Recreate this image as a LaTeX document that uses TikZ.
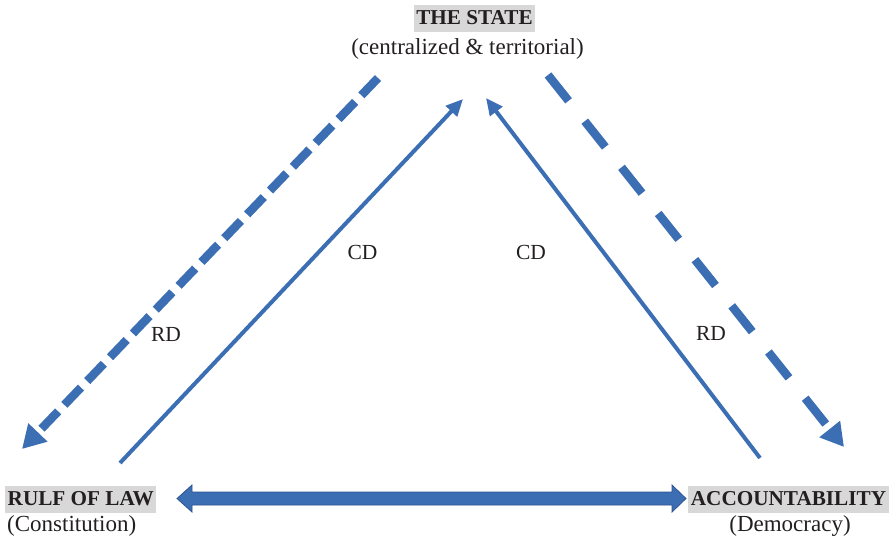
\documentclass[tikz,border=0pt]{standalone}
\usepackage{fontspec}
\setmainfont{Liberation Serif}
\usetikzlibrary{arrows.meta,calc}
\definecolor{lineblue}{RGB}{60,110,180}
\definecolor{edgeblue}{RGB}{47,82,143}
\definecolor{boxgrey}{RGB}{216,216,216}
\definecolor{inkc}{RGB}{35,31,32}
\tikzset{
  lbl/.style={font=\fontsize{21.5}{25}\selectfont, text=inkc, inner sep=0pt},
  sublbl/.style={font=\fontsize{23}{27}\selectfont, text=inkc, inner sep=0pt},
  headlbl/.style={font=\fontsize{21.2}{25}\selectfont\bfseries, text=inkc, fill=boxgrey,
     inner xsep=2.5pt, inner ysep=4pt, text height=15pt, text depth=4pt},
  rdarrow/.style={draw=lineblue, line width=8.5pt, -{Triangle[length=23pt,width=25pt]}},
  cdarrow/.style={draw=lineblue, line width=4pt, -{Triangle[length=17pt,width=15pt]}},
  blockarrow/.style={fill=lineblue, draw=edgeblue, line width=0.8pt, line join=miter}
}
\begin{document}
\begin{tikzpicture}[x=1pt,y=-1pt]
\useasboundingbox (0,0) rectangle (891,539);
% nodes
\node[headlbl, anchor=base] (state) at (474.5,24) {THE STATE};
\node[sublbl, anchor=base] (statesub) at (467.5,54) {(centralized \& territorial)};
\node[headlbl, anchor=base west] (law) at (5,505) {RULF OF LAW};
\node[sublbl, anchor=base west] (lawsub) at (7,531.5) {(Constitution)};
\node[headlbl, anchor=base] (acc) at (788.5,505) {ACCOUNTABILITY};
\node[sublbl, anchor=base] (accsub) at (790,531.5) {(Democracy)};
% edge labels
\node[lbl, anchor=base] (cdl) at (362.5,259.5) {CD};
\node[lbl, anchor=base] (cdr) at (531,259.5) {CD};
\node[lbl, anchor=base] (rdl) at (166,341.5) {RD};
\node[lbl, anchor=base] (rdr) at (711,340.5) {RD};
% connector end points
\coordinate (rdlS) at (378,78);
\coordinate (rdlE) at (22,449);
\coordinate (rdrS) at (548,75);
\coordinate (rdrE) at (844,447);
\coordinate (cdlS) at (120,463);
\coordinate (cdlE) at (463,99);
\coordinate (cdrS) at (760,458);
\coordinate (cdrE) at (486,98);
\coordinate (dl) at (177,498.5);
\coordinate (dr) at (686,498.5);
% connectors
\draw[rdarrow, dash pattern=on 24pt off 9pt] (rdlS) -- (rdlE);
\draw[rdarrow, dash pattern=on 33pt off 26pt] (rdrS) -- (rdrE);
\draw[cdarrow] (cdlS) -- (cdlE);
\draw[cdarrow] (cdrS) -- (cdrE);
\draw[blockarrow] (dl) -- ($(dl)+(15,-13.5)$) -- ($(dl)+(15,-6.5)$) -- ($(dr)+(-14,-6.5)$)
  -- ($(dr)+(-14,-13.5)$) -- (dr) -- ($(dr)+(-14,13.5)$) -- ($(dr)+(-14,6.5)$)
  -- ($(dl)+(15,6.5)$) -- ($(dl)+(15,13.5)$) -- cycle;
\end{tikzpicture}
\end{document}
